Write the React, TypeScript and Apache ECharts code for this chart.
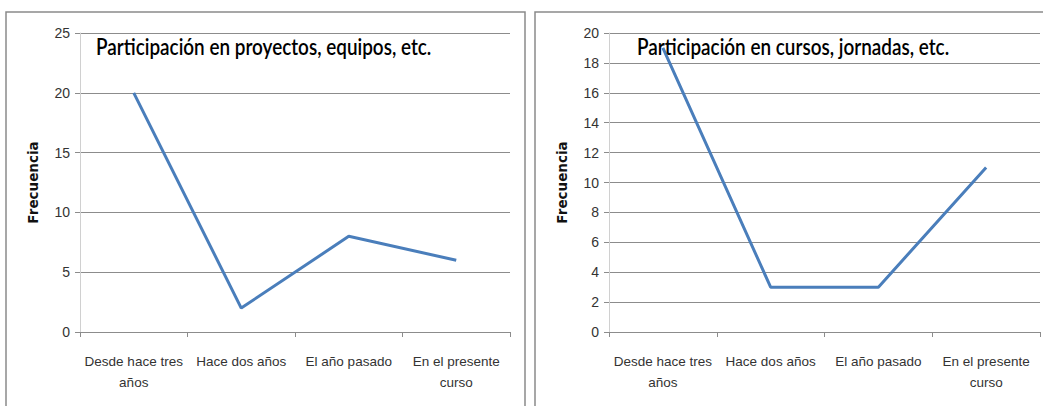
import React, { useEffect, useRef } from "react";
import * as echarts from "echarts";

const categories = ["Desde hace tres\naños", "Hace dos años", "El año pasado", "En el presente\ncurso"];
const proyectosValues = [20, 2, 8, 6];
const cursosValues = [19, 3, 3, 11];
const leftTitle = "Participación en proyectos, equipos, etc.";
const rightTitle = "Participación en cursos, jornadas, etc.";
const yName = "Frecuencia";

const LABEL_FONT = "'Liberation Sans Narrow', 'Arial Narrow', sans-serif";
const TITLE_FONT = "Lato, 'Open Sans', sans-serif";
const LINE_COLOR = "#4a7ebb";
const GRID_COLOR = "#8c8c8c";

export default function App() {
  const ref = useRef<HTMLDivElement>(null);
  useEffect(() => {
    if (!ref.current) return;
    const chart = echarts.init(ref.current, undefined, { renderer: "svg" });
    const xAxis = (gridIndex: number) => ({
      type: "category",
      gridIndex,
      data: categories,
      boundaryGap: true,
      axisLine: { show: true, lineStyle: { color: GRID_COLOR, width: 1 } },
      axisTick: { show: true, length: 5, lineStyle: { color: GRID_COLOR } },
      axisLabel: {
        fontFamily: LABEL_FONT,
        fontSize: 13.5,
        color: "#333",
        margin: 19,
        lineHeight: 21,
        interval: 0,
      },
    });
    const yAxis = (gridIndex: number, max: number, interval: number) => ({
      type: "value",
      gridIndex,
      min: 0,
      max,
      interval,
      name: yName,
      nameLocation: "middle",
      nameGap: 40,
      nameRotate: 90,
      nameTextStyle: { fontFamily: "'DejaVu Sans', sans-serif", fontWeight: "bold", fontSize: 13.5, color: "#111" },
      axisLine: { show: true, lineStyle: { color: "#d0d0d0", width: 1 } },
      axisTick: { show: true, length: 5, lineStyle: { color: GRID_COLOR } },
      axisLabel: { fontFamily: LABEL_FONT, fontSize: 14, color: "#333", margin: 10 },
      splitLine: { show: true, lineStyle: { color: GRID_COLOR, width: 1 } },
    });
    const titleStyle = { fontFamily: TITLE_FONT, fontSize: 22, fontWeight: 600, fill: "#000", textVerticalAlign: "middle" };
    chart.setOption({
      animation: false,
      backgroundColor: "#fff",
      grid: [
        { left: 80, top: 33, width: 430, height: 299 },
        { left: 609, top: 33, width: 431, height: 299 },
      ],
      xAxis: [xAxis(0), xAxis(1)],
      yAxis: [yAxis(0, 25, 5), yAxis(1, 20, 2)],
      series: [
        { type: "line", xAxisIndex: 0, yAxisIndex: 0, data: proyectosValues, symbol: "none", lineStyle: { color: LINE_COLOR, width: 3 } },
        { type: "line", xAxisIndex: 1, yAxisIndex: 1, data: cursosValues, symbol: "none", lineStyle: { color: LINE_COLOR, width: 3 } },
      ],
      graphic: [
        { type: "text", x: 96, y: 46, scaleX: 0.86, style: { text: leftTitle, ...titleStyle }, z: 100 },
        { type: "text", x: 637, y: 46, scaleX: 0.86, style: { text: rightTitle, ...titleStyle }, z: 100 },
        { type: "rect", shape: { x: 6, y: 12, width: 519, height: 420 }, style: { fill: "none", stroke: "#8a8a8a", lineWidth: 1.5 }, z: 100 },
        { type: "rect", shape: { x: 535, y: 12, width: 520, height: 420 }, style: { fill: "none", stroke: "#8a8a8a", lineWidth: 1.5 }, z: 100 },
      ],
    });
    return () => chart.dispose();
  }, []);
  return <div ref={ref} style={{ position: "fixed", left: 0, top: 0, width: 1043, height: 406 }} />;
}
